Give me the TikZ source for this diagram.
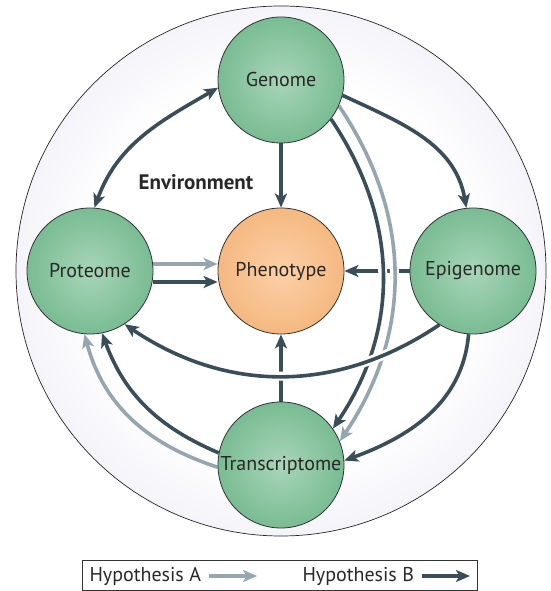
\documentclass[tikz,border=0pt]{standalone}
\usepackage{fontspec}
\setmainfont{PT Sans}
\usetikzlibrary{arrows.meta}

\definecolor{darkarrow}{RGB}{58,78,90}
\definecolor{greyarrow}{RGB}{150,166,176}
\definecolor{envrim}{RGB}{206,203,230}
\definecolor{greenin}{RGB}{168,213,185}
\definecolor{greenout}{RGB}{74,163,108}
\definecolor{orangein}{RGB}{251,208,166}
\definecolor{orangeout}{RGB}{239,161,92}
\definecolor{textgrey}{RGB}{40,40,40}

\pgfdeclareradialshading{envshade}{\pgfpoint{0bp}{0bp}}{color(0bp)=(white); color(18bp)=(white); color(50bp)=(envrim); color(70bp)=(envrim)}
\pgfdeclareradialshading{greenshade}{\pgfpoint{0bp}{0bp}}{color(0bp)=(greenin); color(50bp)=(greenout); color(70bp)=(greenout)}
\pgfdeclareradialshading{orangeshade}{\pgfpoint{0bp}{0bp}}{color(0bp)=(orangein); color(50bp)=(orangeout); color(70bp)=(orangeout)}

\pgfdeclarelayer{bg}
\pgfdeclarelayer{arr}
\pgfsetlayers{bg,arr,main}

\tikzset{
  >={Stealth[length=14pt,width=12pt,inset=3.5pt]},
  omic/.style={circle, minimum size=126pt, inner sep=0pt, draw=black!80, line width=0.8pt,
    shading=greenshade, text=textgrey, font=\fontsize{20}{20}\selectfont},
  pheno/.style={omic, shading=orangeshade},
  hypA/.style={draw=greyarrow, line width=3.6pt},
  hypB/.style={draw=darkarrow, line width=3.6pt},
  halo/.style={preaction={draw=white, line width=9pt, -}},
  legendtext/.style={anchor=west, text=textgrey, font=\fontsize{20}{20}\selectfont},
}

\begin{document}
\begin{tikzpicture}[x=1pt,y=1pt]
  %%%%% START %%%%%

  \useasboundingbox (0,0) rectangle (550,591);

  \begin{pgfonlayer}{bg}
    \node[circle, minimum size=530pt, inner sep=0pt, draw=black!85, line width=0.7pt,
      shading=envshade] (env) at (281,320) {};
  \end{pgfonlayer}

  \node[omic] (genome) at (281,511) {Genome};
  \node[pheno] (phenotype) at (281,320) {Phenotype};
  \node[omic] (proteome) at (90,320) {Proteome};
  \node[omic] (epigenome) at (473,320) {Epigenome};
  \node[omic] (transcriptome) at (281,126) {Transcriptome};

  \node[font=\bfseries\fontsize{21}{21}\selectfont, text=textgrey] (envlabel) at (196,409) {Environment};

  \begin{pgfonlayer}{arr}
    \draw[hypB, <->] (genome.187) to[out=210, in=70] (proteome.86);
    \draw[hypB, ->] (genome) -- (phenotype);
    \draw[hypB, ->] (genome.346) to[out=-25, in=100] (epigenome.96);

    \draw[hypB, ->] (epigenome) -- (phenotype);
    \draw[hypB, ->] (transcriptome) -- (phenotype);
    \draw[hypA, ->] ([yshift=7pt]proteome.east) -- ([yshift=7pt]phenotype.west);
    \draw[hypB, ->] ([yshift=-11pt]proteome.east) -- ([yshift=-11pt]phenotype.west);

    \draw[hypB, halo, ->] (genome.322) to[out=-56, in=56] (transcriptome.35);
    \draw[hypA, halo, ->] (genome.336) to[out=-56, in=56] (transcriptome.22);

    \draw[hypB, ->] (epigenome.266) to[out=265, in=20] (transcriptome.4);
    \draw[hypB, ->] (transcriptome.169) to[out=157, in=-70] (proteome.281);
    \draw[hypA, ->] (transcriptome.182) to[out=162, in=-75] (proteome.265);

    \draw[hypB, halo, ->] (epigenome.238) to[out=214, in=-34] (proteome.303);
  \end{pgfonlayer}

  % legend
  \draw[black!80, line width=0.7pt] (82.5,0.5) rectangle (477.5,30.5);
  \node[legendtext] (hypa) at (86,15) {Hypothesis A};
  \node[legendtext] (hypb) at (299,15) {Hypothesis B};
  \coordinate (hypaend) at (257,15);
  \coordinate (hypbend) at (470,15);
  \draw[hypA, ->] ([xshift=5pt]hypa.east) -- (hypaend);
  \draw[hypB, ->] ([xshift=5pt]hypb.east) -- (hypbend);

  %%%%% END %%%%%
\end{tikzpicture}
\end{document}
